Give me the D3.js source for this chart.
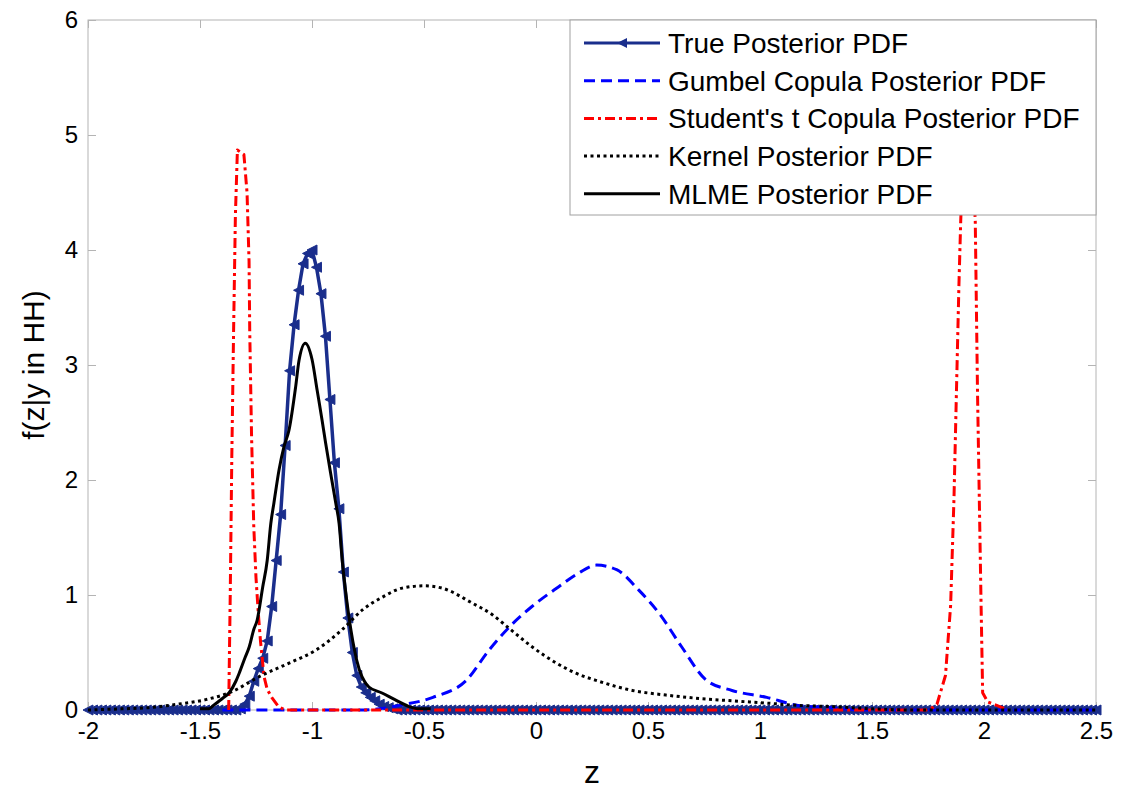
<!DOCTYPE html>
<html>
<head>
<meta charset="utf-8">
<script src="https://cdn.jsdelivr.net/npm/d3@7"></script>
<style>
body { margin: 0; background: #fff; }
svg { display: block; font-family: "Liberation Sans", Arial, sans-serif; }
</style>
</head>
<body>
<svg></svg>
<script>
let width = 1127,
    height = 792;

let xTicks = [-2, -1.5, -1, -0.5, 0, 0.5, 1, 1.5, 2, 2.5];
let yTicks = [0, 1, 2, 3, 4, 5, 6];

let seriesNames = [
    'True Posterior PDF',
    'Gumbel Copula Posterior PDF',
    "Student's t Copula Posterior PDF",
    'Kernel Posterior PDF',
    'MLME Posterior PDF'
];

// true posterior, peak part (z, f)
let truePeak = [
    [-1.34, 0], [-1.32, 0.01], [-1.30, 0.05], [-1.28, 0.12], [-1.26, 0.25], [-1.24, 0.36],
    [-1.22, 0.45], [-1.20, 0.6], [-1.18, 0.9], [-1.16, 1.3], [-1.14, 1.7], [-1.12, 2.3],
    [-1.10, 2.95], [-1.08, 3.35], [-1.06, 3.65], [-1.04, 3.88], [-1.02, 3.97], [-1.00, 4.0],
    [-0.98, 3.85], [-0.96, 3.62], [-0.94, 3.25], [-0.92, 2.7], [-0.90, 2.15], [-0.88, 1.75],
    [-0.86, 1.2], [-0.84, 0.8], [-0.82, 0.5], [-0.80, 0.3], [-0.78, 0.2], [-0.76, 0.15],
    [-0.74, 0.11], [-0.72, 0.08], [-0.70, 0.05], [-0.68, 0.03], [-0.66, 0.02], [-0.64, 0.01],
    [-0.62, 0]
];
// the true pdf is sampled every 0.02 and is 0 outside the peak
let trueStep = 0.02;
let trueRange = [-2, 2.5];

let gumbel = [
    [-1.4, 0], [-0.8, 0], [-0.7, 0.01], [-0.61, 0.04], [-0.46, 0.11], [-0.31, 0.26],
    [-0.21, 0.52], [-0.12, 0.72], [-0.018, 0.9], [0.1, 1.07], [0.19, 1.19], [0.27, 1.26],
    [0.36, 1.22], [0.46, 1.04], [0.55, 0.84], [0.65, 0.55], [0.76, 0.26], [0.875, 0.17],
    [1.03, 0.11], [1.17, 0.04], [1.32, 0.02], [1.45, 0], [2.5, 0]
];

let studentT = [
    [-1.372, 0], [-1.365, 1.0], [-1.358, 2.2], [-1.35, 3.3], [-1.342, 4.3], [-1.333, 4.87],
    [-1.304, 4.83], [-1.29, 4.5], [-1.281, 3.9], [-1.278, 3.3], [-1.27, 2.4], [-1.26, 1.6],
    [-1.25, 1.15], [-1.24, 0.85], [-1.23, 0.6], [-1.214, 0.29], [-1.2, 0.18], [-1.18, 0.11],
    [-1.15, 0.03], [-1.12, 0], [1.74, 0], [1.77, 0.02], [1.79, 0.05], [1.828, 0.3],
    [1.851, 0.91], [1.866, 1.84], [1.877, 2.77], [1.888, 3.69], [1.896, 4.25], [1.91, 5.0],
    [1.945, 5.0], [1.961, 4.25], [1.971, 2.77], [1.979, 1.84], [1.987, 0.91], [1.994, 0.15],
    [2.017, 0.07], [2.107, 0]
];

let kernel = [
    [-2, 0], [-1.85, 0.01], [-1.73, 0.02], [-1.6, 0.05], [-1.475, 0.09], [-1.357, 0.16],
    [-1.236, 0.29], [-1.1, 0.41], [-0.983, 0.52], [-0.865, 0.7], [-0.775, 0.87], [-0.687, 0.98],
    [-0.597, 1.06], [-0.5, 1.08], [-0.42, 1.06], [-0.285, 0.93], [-0.196, 0.83], [-0.12, 0.71],
    [-0.018, 0.55], [0.089, 0.41], [0.178, 0.32], [0.28, 0.25], [0.43, 0.17], [0.58, 0.13],
    [0.73, 0.1], [0.875, 0.08], [1.03, 0.06], [1.17, 0.04], [1.32, 0.03], [1.5, 0.01],
    [1.7, 0], [2.5, 0]
];

let mlme = [
    [-1.50, 0.01], [-1.46, 0.01], [-1.44, 0.04], [-1.42, 0.07], [-1.40, 0.1], [-1.37, 0.15],
    [-1.34, 0.25], [-1.325, 0.32], [-1.30, 0.45], [-1.28, 0.55], [-1.26, 0.7], [-1.245, 0.78],
    [-1.22, 1.07], [-1.20, 1.3], [-1.184, 1.62], [-1.17, 1.8], [-1.147, 2.09], [-1.125, 2.29],
    [-1.103, 2.43], [-1.073, 2.81], [-1.058, 3.04], [-1.03, 3.19], [-1.0, 3.05], [-0.977, 2.78],
    [-0.955, 2.52], [-0.939, 2.32], [-0.917, 2.06], [-0.894, 1.8], [-0.879, 1.62], [-0.865, 1.3],
    [-0.835, 0.81], [-0.8, 0.43], [-0.746, 0.2], [-0.69, 0.15], [-0.63, 0.09], [-0.567, 0.03],
    [-0.52, 0.01], [-0.47, 0.01]
];

let svg = d3.select("svg")
    .attr("width", width)
    .attr("height", height);

let x = d3.scaleLinear().domain([-2, 2.5]).range([88, 1096]);
let y = d3.scaleLinear().domain([0, 6]).range([710, 20]);

let axisColor = "#b4b4b4";
let plain = d => String(d);

// frame + inward ticks on all four sides
svg.append("rect")
    .attr("x", x.range()[0]).attr("y", y.range()[1])
    .attr("width", x.range()[1] - x.range()[0])
    .attr("height", y.range()[0] - y.range()[1])
    .attr("fill", "none").attr("stroke", axisColor);

function styleAxis(g) {
    g.select(".domain").remove();
    g.selectAll(".tick line").attr("stroke", axisColor);
    g.selectAll(".tick text").attr("fill", "#000").attr("font-size", 24);
}

svg.append("g")
    .attr("transform", `translate(0, ${y.range()[0]})`)
    .call(d3.axisBottom(x).tickValues(xTicks).tickSize(-8).tickPadding(12).tickFormat(plain))
    .call(styleAxis);
svg.append("g")
    .attr("transform", `translate(0, ${y.range()[1]})`)
    .call(d3.axisTop(x).tickValues(xTicks).tickSize(-8).tickFormat(""))
    .call(styleAxis);
svg.append("g")
    .attr("transform", `translate(${x.range()[0]}, 0)`)
    .call(d3.axisLeft(y).tickValues(yTicks).tickSize(-8).tickPadding(10).tickFormat(plain))
    .call(styleAxis);
svg.append("g")
    .attr("transform", `translate(${x.range()[1]}, 0)`)
    .call(d3.axisRight(y).tickValues(yTicks).tickSize(-8).tickFormat(""))
    .call(styleAxis);

svg.append("text")
    .attr("x", x(0.25)).attr("y", 783)
    .attr("text-anchor", "middle")
    .attr("font-size", 32)
    .text("z");
svg.append("text")
    .attr("transform", `translate(44, ${y(3)}) rotate(-90)`)
    .attr("text-anchor", "middle")
    .attr("font-size", 30)
    .text("f(z|y in HH)");

// build the sampled true pdf: zeros on the 0.02 grid outside the peak
let peakLo = truePeak[0][0], peakHi = truePeak[truePeak.length - 1][0];
let trueData = [];
d3.range(trueRange[0], peakLo - 1e-9, trueStep).forEach(z => trueData.push([z, 0]));
truePeak.forEach(p => trueData.push(p));
d3.range(peakHi + trueStep, trueRange[1] + 1e-9, trueStep).forEach(z => trueData.push([z, 0]));

let line = d3.line().x(d => x(d[0])).y(d => y(d[1]));
let smooth = d3.line().x(d => x(d[0])).y(d => y(d[1])).curve(d3.curveMonotoneX);

let styles = [
    {color: "#1a2e8c", dash: null},
    {color: "#0000ff", dash: "11,6"},
    {color: "#ff0000", dash: "10,4,3,4"},
    {color: "#000000", dash: "3,3.5"},
    {color: "#000000", dash: null}
];

let plot = svg.append("g");

function triangle(s) {
    return `M${-s},0L${s},${-s}L${s},${s}Z`;
}

plot.append("path").datum(trueData)
    .attr("d", line).attr("fill", "none")
    .attr("stroke", styles[0].color).attr("stroke-width", 3.5);
plot.selectAll(".marker").data(trueData).enter()
    .append("path")
    .attr("class", "marker")
    .attr("transform", d => `translate(${x(d[0])}, ${y(d[1])})`)
    .attr("d", triangle(5))
    .attr("fill", styles[0].color)
    .attr("stroke", styles[0].color)
    .attr("stroke-width", 1);

[gumbel, studentT, kernel, mlme].forEach((data, i) => {
    let st = styles[i + 1];
    plot.append("path").datum(data)
        .attr("d", i === 1 ? line : smooth)
        .attr("fill", "none")
        .attr("stroke", st.color)
        .attr("stroke-width", 3)
        .attr("stroke-dasharray", st.dash)
        .attr("stroke-linejoin", "round");
});

// legend
let legend = svg.append("g").attr("class", "legend");
legend.append("rect")
    .attr("x", 570).attr("y", 20).attr("width", 526).attr("height", 195)
    .attr("fill", "#fff").attr("stroke", "#a0a0a0");

seriesNames.forEach((name, i) => {
    let ly = 43 + i * 37.7;
    let st = styles[i];
    legend.append("line")
        .attr("x1", 584).attr("x2", 660).attr("y1", ly).attr("y2", ly)
        .attr("stroke", st.color).attr("stroke-width", 3)
        .attr("stroke-dasharray", st.dash);
    if (i === 0) {
        legend.append("path")
            .attr("transform", `translate(622, ${ly})`)
            .attr("d", triangle(5))
            .attr("fill", st.color);
    }
    legend.append("text")
        .attr("x", 668).attr("y", ly)
        .attr("dy", "0.36em")
        .attr("font-size", 28)
        .text(name);
});
</script>
</body>
</html>
